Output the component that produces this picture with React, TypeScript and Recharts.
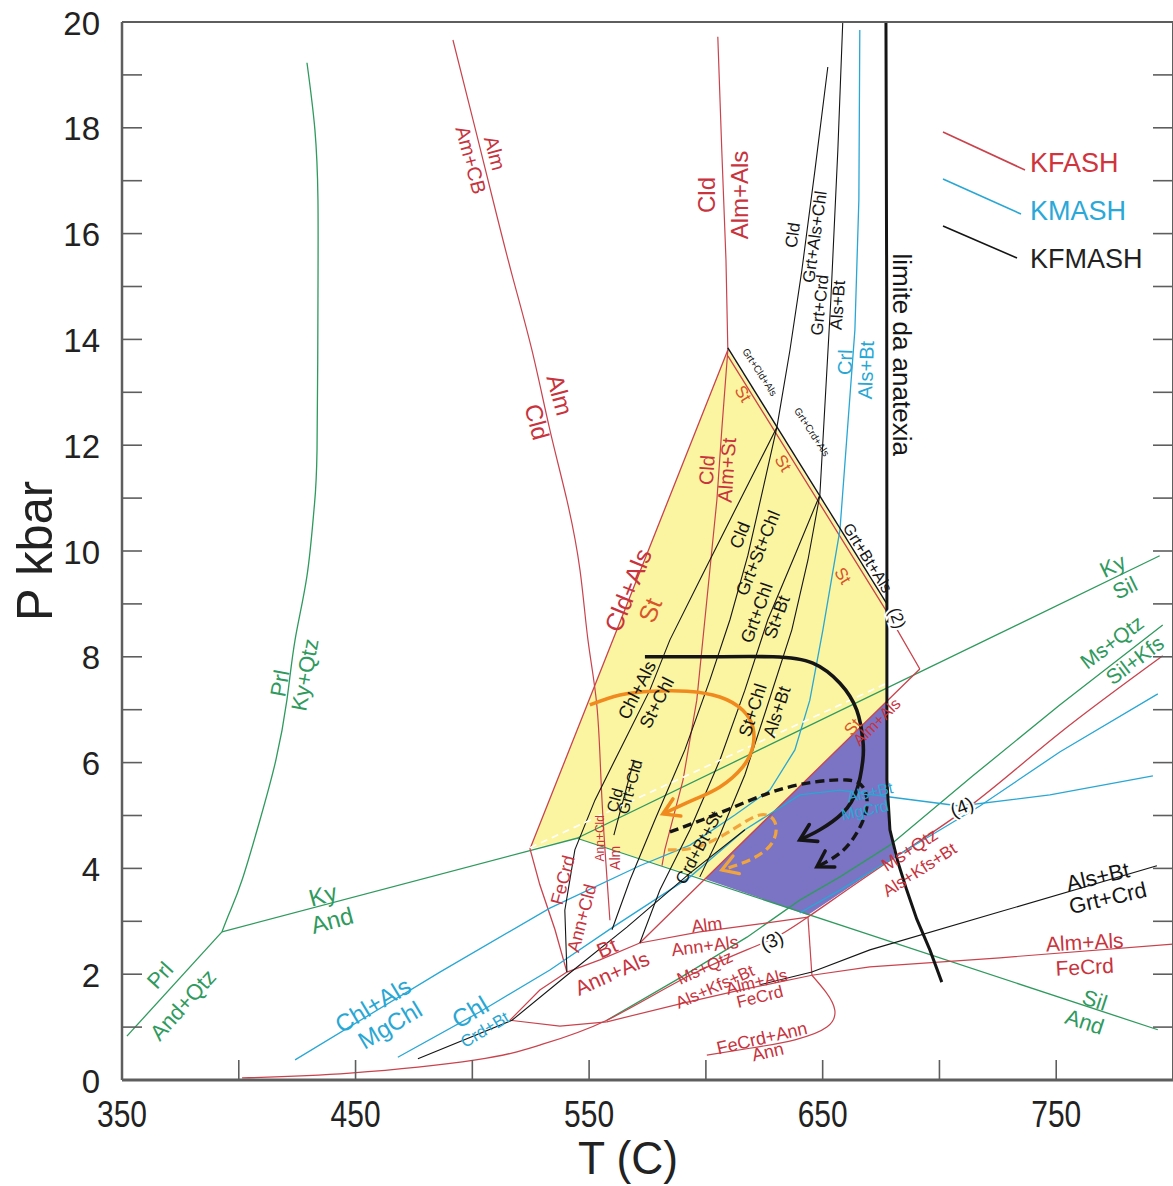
import React from 'react';
import { ComposedChart, Line, Scatter, XAxis, YAxis, Legend, Label } from 'recharts';

type Pt = [number, number];
type Lab = [number, number, string, number, number];

// ---- axes
const tTicks = [350, 400, 450, 500, 550, 600, 650, 700, 750, 800];
const pTicks = Array.from({ length: 21 }, (_, i) => i);

// ---- green: Prl / Al2SiO5 / Ms+Qtz
const prlKyQtz: Pt[] = [[429.2, 19.23], [432.6, 17.96], [433.9, 16.64], [433.9, 14.75], [433.5, 11.91], [432.2, 10.78], [429.2, 9.53], [424.1, 8.32], [420.6, 7.18], [415.9, 6.05], [409.1, 4.92], [401.4, 3.78], [396.2, 3.18], [392.8, 2.8]];
const prlAndQtz: Pt[] = [[392.8, 2.8], [352.1, 0.83]];
const kyAnd: Pt[] = [[392.8, 2.8], [544.8, 4.57]];
const kySil: Pt[] = [[544.8, 4.57], [794.3, 9.91]];
const andSil: Pt[] = [[544.8, 4.57], [793.5, 0.95]];
const msQtzSilKfs: Pt[] = [[795.6, 8.6], [751.5, 7.09], [714.3, 5.75], [678.8, 4.44], [657.4, 3.84], [640.2, 3.4], [617.6, 2.7], [588.9, 1.93], [557.6, 1.13]];
const kySilInner: Pt[] = [[524.7, 4.39], [677.5, 7.5]];

// ---- red: KFASH
const almCld: Pt[] = [[491.7, 19.66], [500.3, 18.15], [508.8, 16.64], [517.0, 15.22], [525.5, 13.8], [533.2, 12.29], [540.5, 10.96], [546.1, 9.64], [549.5, 8.32], [553.3, 7.09], [555.1, 5.67], [556.8, 4.35], [558.9, 3.02]];
const cldAlmAls: Pt[] = [[605.1, 19.72], [606.8, 17.58], [608.6, 15.5], [609.4, 13.8]];
const cldAlsSt: Pt[] = [[609.4, 13.8], [524.7, 4.37], [528.9, 3.69], [535.4, 2.84], [540.5, 2.04]];
const cldAlmSt: Pt[] = [[609.4, 13.8], [606.8, 12.29], [604.7, 10.96], [600.4, 9.07], [596.1, 7.18], [590.2, 5.67], [582.4, 4.35], [581.2, 4.05]];
const stEdge: Pt[] = [[609.4, 13.69], [677.5, 8.85], [691.6, 7.77]];
const stAlmAls: Pt[] = [[691.6, 7.77], [599.6, 3.8], [571.7, 2.59]];
const almAnnAls: Pt[] = [[571.7, 2.59], [597.4, 2.8], [623.1, 2.95], [643.7, 3.08]];
const btAnnAls: Pt[] = [[540.5, 2.04], [554.6, 2.27], [571.7, 2.59]];
const msQtzAlsKfsBt: Pt[] = [[795.6, 8.02], [751.5, 6.56], [714.3, 5.22], [677.9, 4.12], [643.7, 3.08], [624.4, 2.59], [593.2, 1.98], [557.6, 1.13], [528.9, 0.66], [501.5, 0.38], [447.6, 0.13], [401.4, 0.04]];
const almAlsFeCrd: Pt[] = [[799.9, 2.57], [725.9, 2.31], [670.2, 2.14], [645.4, 1.98], [614.6, 1.7], [588.9, 1.44], [557.6, 1.1]];
const stubLine: Pt[] = [[643.7, 3.08], [645.4, 1.98]];
const feCrdAnn: Pt[] = [[645.4, 1.98], [651.4, 1.66], [655.2, 1.32], [651.8, 1.0], [638.1, 0.76], [618.8, 0.6], [600.4, 0.47]];
const lowRedA: Pt[] = [[516.1, 1.13], [528.9, 1.7], [540.5, 2.04]];
const lowRedB: Pt[] = [[516.1, 1.13], [537.5, 1.02], [557.6, 1.1]];

// ---- cyan: KMASH
const crlAlsBt: Pt[] = [[665.9, 19.85], [665.5, 16.64], [663.8, 14.18], [657.4, 10.4], [650.1, 8.51], [644.5, 7.18], [638.1, 6.24], [627.4, 5.48], [612.4, 5.01], [593.2, 4.44], [571.7, 4.05], [533.2, 3.25], [486.1, 2.04], [424.1, 0.38]];
const chlCrdBt: Pt[] = [[468.1, 0.43], [503.3, 1.29], [533.2, 2.08], [560.2, 2.89], [593.2, 3.84], [616.7, 4.73], [640.2, 5.39], [657.4, 5.48], [678.8, 5.35], [708.7, 5.18], [747.3, 5.39], [791.4, 5.75]];
const alsKfsBtMg: Pt[] = [[793.5, 7.3], [751.5, 6.2], [717.3, 5.18], [678.8, 4.16], [657.4, 3.59], [640.2, 3.16]];

// ---- black: KFMASH
const grtEdge: Pt[] = [[609.4, 13.84], [677.5, 9.0]];
const cldGrtAlsChl: Pt[] = [[652.2, 19.15], [646.7, 17.2], [641.1, 15.31], [636.0, 13.8], [630.4, 12.34], [614.6, 10.96], [597.4, 9.45], [584.6, 8.32], [576.0, 7.37], [563.2, 6.24], [552.5, 5.29], [543.9, 4.35], [539.6, 3.21], [540.5, 2.04]];
const grtCrdAlsBt: Pt[] = [[658.6, 20.0], [656.5, 17.58], [653.5, 14.75], [648.8, 11.06]];
const cldGrtStChl: Pt[] = [[630.4, 12.34], [625.3, 11.34], [618.0, 9.92], [610.3, 8.7], [601.7, 7.56], [591.0, 6.24], [578.2, 4.92], [567.5, 3.78], [559.8, 2.84]];
const grtChlStBt: Pt[] = [[648.8, 11.06], [638.1, 9.92], [626.5, 8.7], [616.7, 7.37], [606.0, 6.05], [593.2, 4.73], [580.3, 3.59], [571.7, 2.59]];
const stChlAlsBt: Pt[] = [[648.8, 11.06], [643.7, 9.83], [636.8, 8.51], [625.7, 6.99], [616.7, 5.77], [606.0, 4.63], [597.4, 3.84]];
const grtCldCld: Pt[] = [[569.2, 6.05], [560.6, 4.63]];
const alsBtGrtCrd: Pt[] = [[793.1, 4.05], [725.9, 3.18], [670.2, 2.46], [645.4, 2.04], [623.1, 1.8]];
const crdBtLow: Pt[] = [[476.7, 0.4], [517.0, 1.13], [540.5, 1.98], [566.2, 2.89], [593.2, 3.91], [616.7, 4.73]];
const anatexis: Pt[] = [[677.1, 20.0], [677.4, 15.0], [677.5, 10.0], [677.5, 5.67], [678.8, 4.73], [682.2, 4.12], [686.0, 3.59], [690.3, 3.04], [695.9, 2.46], [701.0, 1.85]];

// ---- P-T paths
const pathSolid: Pt[] = [[573.9, 8.0], [601.0, 8.0], [628.7, 8.0], [645.8, 7.88], [657.4, 7.5], [664.6, 6.99], [667.2, 6.43], [667.2, 6.05], [664.6, 5.48], [658.6, 5.05], [648.8, 4.73], [640.2, 4.54]];
const pathDashed: Pt[] = [[584.6, 4.69], [606.0, 5.05], [627.4, 5.43], [645.8, 5.63], [660.4, 5.67], [667.2, 5.54], [668.9, 5.16], [664.6, 4.67], [657.4, 4.29], [647.5, 4.03]];
const orangeSolid: Pt[] = [[550.3, 7.09], [563.2, 7.28], [577.3, 7.35], [591.9, 7.35], [606.0, 7.24], [615.8, 6.99], [620.1, 6.67], [620.1, 6.3], [615.8, 5.92], [606.0, 5.54], [594.4, 5.29], [581.6, 5.03]];
const orangeDashed: Pt[] = [[583.7, 4.35], [597.4, 4.42], [612.4, 4.76], [623.1, 5.01], [629.5, 4.88], [628.3, 4.48], [618.8, 4.16], [606.8, 3.97]];

// ---- shaded fields
const yellowZone: Pt[] = [[524.7, 4.37], [609.4, 13.8], [677.5, 8.96], [677.5, 7.16], [599.6, 3.8], [544.8, 4.57]];
const purpleZone: Pt[] = [[677.5, 7.16], [599.6, 3.8], [643.7, 3.12], [680.9, 4.22], [678.8, 4.73], [677.5, 5.67]];

// ---- labels [T, P, text, rotation, size]
const greenLabels: Lab[] = [
  [417.6, 7.5, 'Prl', -80, 22], [428.3, 7.66, 'Ky+Qtz', -80, 22],
  [366.3, 1.98, 'Prl', -48, 22], [376.1, 1.42, 'And+Qtz', -48, 22],
  [436.0, 3.5, 'Ky', -15, 24], [439.9, 3.02, 'And', -15, 24],
  [774.2, 9.72, 'Ky', -26, 22], [779.4, 9.3, 'Sil', -26, 22],
  [773.8, 8.28, 'Ms+Qtz', -37, 21], [783.6, 7.94, 'Sil+Kfs', -37, 21],
  [766.5, 1.51, 'Sil', 18, 22], [762.2, 1.1, 'And', 18, 22],
];
const redLabels: Lab[] = [
  [509.7, 17.52, 'Alm', 75, 20], [499.4, 17.39, 'Am+CB', 75, 20],
  [537.5, 12.95, 'Alm', 75, 24], [527.7, 12.44, 'Cld', 75, 24],
  [600.4, 16.73, 'Cld', -90, 24], [614.6, 16.73, 'Alm+Als', -90, 24],
  [566.6, 9.26, 'Cld+Als', -68, 25],
  [600.4, 11.53, 'Cld', -86, 20], [609.0, 11.53, 'Alm+St', -86, 20],
  [673.2, 6.77, 'Alm+Als', -45, 16],
  [538.8, 3.78, 'FeCrd', -75, 18], [546.9, 3.06, 'Ann+Cld', -75, 18],
  [554.6, 4.57, 'Ann+Cld', -90, 12], [561.0, 4.2, 'Alm', -90, 14],
  [557.6, 2.5, 'Bt', -24, 21], [559.8, 2.02, 'Ann+Als', -24, 21],
  [600.4, 2.93, 'Alm', -7, 18], [599.6, 2.53, 'Ann+Als', -7, 18],
  [599.6, 2.12, 'Ms+Qtz', -24, 17], [603.9, 1.76, 'Als+Kfs+Bt', -24, 17],
  [621.8, 1.85, 'Alm+Als', -14, 17], [623.1, 1.57, 'FeCrd', -14, 17],
  [624.0, 0.79, 'FeCrd+Ann', -13, 18], [626.5, 0.53, 'Ann', -13, 18],
  [687.3, 4.35, 'Ms+Qtz', -33, 18], [691.6, 3.97, 'Als+Kfs+Bt', -33, 17],
  [762.2, 2.61, 'Alm+Als', -3, 21], [762.2, 2.14, 'FeCrd', -3, 21],
];
const stLabels: Lab[] = [
  [576.0, 8.88, 'St', -68, 25],
  [615.8, 12.97, 'St', 58, 17], [633.0, 11.66, 'St', 58, 17], [658.6, 9.53, 'St', 58, 17],
  [662.9, 6.67, 'St', -50, 17],
];
const cyanLabels: Lab[] = [
  [659.5, 13.57, 'Crl', -88, 20], [668.5, 13.42, 'Als+Bt', -88, 20],
  [670.2, 5.44, 'Als+Bt', -12, 16], [668.1, 5.1, 'MgCrd', -12, 16],
  [457.4, 1.42, 'Chl+Als', -31, 24], [464.7, 1.04, 'MgChl', -31, 24],
  [499.0, 1.29, 'Chl', -31, 25], [505.4, 0.95, 'Crd+Bt', -31, 17],
];
const blackLabels: Lab[] = [
  [683.9, 13.71, 'limite da anatexia', 90, 26],
  [637.2, 15.97, 'Cld', -82, 17], [646.7, 15.94, 'Grt+Als+Chl', -82, 17],
  [648.8, 14.65, 'Grt+Crd', -84, 17], [656.5, 14.65, 'Als+Bt', -86, 17],
  [623.1, 13.38, 'Grt+Cld+Als', 57, 10], [645.4, 12.25, 'Grt+Crd+Als', 57, 10], [669.3, 9.87, 'Grt+Bt+Als', 58, 16],
  [614.6, 10.3, 'Cld', -68, 18], [622.3, 9.96, 'Grt+St+Chl', -68, 18],
  [621.8, 8.83, 'Grt+Chl', -70, 18], [630.4, 8.75, 'St+Bt', -70, 18],
  [570.5, 7.37, 'Chl+Als', -63, 18], [579.0, 7.13, 'St+Chl', -63, 18],
  [620.1, 6.99, 'St+Chl', -72, 18], [630.4, 6.96, 'Als+Bt', -72, 18],
  [567.5, 5.54, 'Grt+Cld', -75, 16], [561.0, 5.29, 'Cld', -75, 16],
  [597.0, 4.39, 'Crd+Bt+St', -62, 17],
  [767.8, 3.84, 'Als+Bt', -13, 22], [772.1, 3.44, 'Grt+Crd', -13, 22],
  [681.8, 8.73, '(2)', 70, 17], [628.3, 2.63, '(3)', -22, 19], [709.6, 5.16, '(4)', -22, 19],
];

const RED = '#c9434d';
const RED_TXT = '#c8333d';
const GREEN = '#2f9a5e';
const CYAN = '#29a7d4';
const BLACK = '#151515';
const ORANGE = '#f08a1e';
const ORANGE_DASH = '#f2a43c';
const ST_ORANGE = '#d8552a';
const YELLOW = '#fbf5a2';
const PURPLE = '#7b73c4';
const AXIS = '#5e5e5e';
const FONT = "'Liberation Sans', Arial, sans-serif";

const rows = (pts: Pt[]) => pts.map(([t, p]) => ({ t, p }));
const labelRows = (labs: Lab[]) => labs.map(([t, p, text, rot, size]) => ({ t, p, text, rot, size }));

const arrowDot = (color: string, n: number, width: number) => {
  const prev = { x: 0, y: 0 };
  return (props: any) => {
    const { index, cx, cy } = props;
    if (index === n - 2) {
      prev.x = cx;
      prev.y = cy;
    }
    if (index !== n - 1) return <g key={`a-${index}`} />;
    const ang = Math.atan2(cy - prev.y, cx - prev.x);
    const len = 18;
    const s = 0.55;
    const x1 = cx - len * Math.cos(ang - s);
    const y1 = cy - len * Math.sin(ang - s);
    const x2 = cx - len * Math.cos(ang + s);
    const y2 = cy - len * Math.sin(ang + s);
    return (
      <path key={`a-${index}`} d={`M${x1},${y1} L${cx},${cy} L${x2},${y2}`} fill="none" stroke={color} strokeWidth={width} strokeLinecap="round" />
    );
  };
};

type LineDef = { id: string; pts: Pt[]; c: string; w: number; dash?: string; curve?: 'linear' | 'natural'; arrow?: boolean };

const lineDefs: LineDef[] = [
  { id: 'prlKyQtz', pts: prlKyQtz, c: GREEN, w: 1.3, curve: 'natural' },
  { id: 'prlAndQtz', pts: prlAndQtz, c: GREEN, w: 1.3 },
  { id: 'kyAnd', pts: kyAnd, c: GREEN, w: 1.3 },
  { id: 'kySil', pts: kySil, c: GREEN, w: 1.3 },
  { id: 'andSil', pts: andSil, c: GREEN, w: 1.3 },
  { id: 'msQtzSilKfs', pts: msQtzSilKfs, c: GREEN, w: 1.3 },
  { id: 'almCld', pts: almCld, c: RED, w: 1.2, curve: 'natural' },
  { id: 'cldAlmAls', pts: cldAlmAls, c: RED, w: 1.2 },
  { id: 'cldAlsSt', pts: cldAlsSt, c: RED, w: 1.3 },
  { id: 'cldAlmSt', pts: cldAlmSt, c: RED, w: 1.2 },
  { id: 'stEdge', pts: stEdge, c: RED, w: 1.3 },
  { id: 'stAlmAls', pts: stAlmAls, c: RED, w: 1.3 },
  { id: 'almAnnAls', pts: almAnnAls, c: RED, w: 1.2 },
  { id: 'btAnnAls', pts: btAnnAls, c: RED, w: 1.2 },
  { id: 'msQtzAlsKfsBt', pts: msQtzAlsKfsBt, c: RED, w: 1.3, curve: 'natural' },
  { id: 'almAlsFeCrd', pts: almAlsFeCrd, c: RED, w: 1.2 },
  { id: 'stubLine', pts: stubLine, c: RED, w: 1.2 },
  { id: 'feCrdAnn', pts: feCrdAnn, c: RED, w: 1.2, curve: 'natural' },
  { id: 'lowRedA', pts: lowRedA, c: RED, w: 1.2 },
  { id: 'lowRedB', pts: lowRedB, c: RED, w: 1.2 },
  { id: 'crlAlsBt', pts: crlAlsBt, c: CYAN, w: 1.3 },
  { id: 'chlCrdBt', pts: chlCrdBt, c: CYAN, w: 1.3 },
  { id: 'alsKfsBtMg', pts: alsKfsBtMg, c: CYAN, w: 1.3 },
  { id: 'grtEdge', pts: grtEdge, c: BLACK, w: 1.4 },
  { id: 'cldGrtAlsChl', pts: cldGrtAlsChl, c: BLACK, w: 1.1 },
  { id: 'grtCrdAlsBt', pts: grtCrdAlsBt, c: BLACK, w: 1.1 },
  { id: 'cldGrtStChl', pts: cldGrtStChl, c: BLACK, w: 1.1 },
  { id: 'grtChlStBt', pts: grtChlStBt, c: BLACK, w: 1.1 },
  { id: 'stChlAlsBt', pts: stChlAlsBt, c: BLACK, w: 1.1 },
  { id: 'grtCldCld', pts: grtCldCld, c: BLACK, w: 1.1 },
  { id: 'alsBtGrtCrd', pts: alsBtGrtCrd, c: BLACK, w: 1.1 },
  { id: 'crdBtLow', pts: crdBtLow, c: BLACK, w: 1.1 },
  { id: 'kySilInner', pts: kySilInner, c: '#ffffff', w: 1.6, dash: '7 5' },
  { id: 'anatexis', pts: anatexis, c: BLACK, w: 3 },
  { id: 'orangeSolid', pts: orangeSolid, c: ORANGE, w: 3.6, curve: 'natural', arrow: true },
  { id: 'orangeDashed', pts: orangeDashed, c: ORANGE_DASH, w: 3.2, dash: '9 5', curve: 'natural', arrow: true },
  { id: 'pathSolid', pts: pathSolid, c: BLACK, w: 3.6, curve: 'natural', arrow: true },
  { id: 'pathDashed', pts: pathDashed, c: BLACK, w: 3.4, dash: '9 5', curve: 'natural', arrow: true },
];

const labelGroups = [
  { id: 'lg', color: GREEN, labs: greenLabels },
  { id: 'lr', color: RED_TXT, labs: redLabels },
  { id: 'ls', color: ST_ORANGE, labs: stLabels },
  { id: 'lc', color: CYAN, labs: cyanLabels },
  { id: 'lk', color: BLACK, labs: blackLabels },
];

const fillPoly = (color: string) => (props: any) => {
  const pts = props.points || [];
  if (!pts.length) return <g />;
  return <polygon points={pts.map((q: any) => `${q.x},${q.y}`).join(' ')} fill={color} stroke="none" />;
};

const textShape = (color: string) => (props: any) => {
  const { cx, cy } = props;
  const d = props.payload ?? props;
  if (cx == null || cy == null || !d || !d.text) return <g />;
  const badge = String(d.text).startsWith('(');
  return (
    <text
      x={cx}
      y={cy}
      transform={`rotate(${d.rot} ${cx} ${cy})`}
      textAnchor="middle"
      dominantBaseline="central"
      fontSize={d.size}
      fontFamily={FONT}
      fill={color}
      stroke={badge ? '#ffffff' : 'none'}
      strokeWidth={badge ? 4 : 0}
      paintOrder="stroke"
    >
      {d.text}
    </text>
  );
};

const BottomTick = (props: any) => {
  const { x, y, payload } = props;
  const v = payload.value;
  return (
    <g>
      <line x1={x} y1={y} x2={x} y2={y - 20} stroke={AXIS} strokeWidth={1.6} />
      {v % 100 === 50 && (
        <text
          x={x}
          y={y + 34}
          textAnchor="middle"
          dominantBaseline="central"
          fontSize={37}
          fontFamily={FONT}
          textLength={50}
          lengthAdjust="spacingAndGlyphs"
          fill="#222"
        >
          {v}
        </text>
      )}
    </g>
  );
};

const TopTick = (props: any) => {
  const { x, y } = props;
  return <line x1={x} y1={y} x2={x} y2={y + 20} stroke={AXIS} strokeWidth={1.6} />;
};

const LeftTick = (props: any) => {
  const { x, y, payload } = props;
  const v = payload.value;
  return (
    <g>
      <line x1={x} y1={y} x2={x + 20} y2={y} stroke={AXIS} strokeWidth={1.6} />
      {v % 2 === 0 && (
        <text x={x - 22} y={y + 1} textAnchor="end" dominantBaseline="central" fontSize={33} fontFamily={FONT} fill="#222">
          {v}
        </text>
      )}
    </g>
  );
};

const RightTick = (props: any) => {
  const { x, y } = props;
  return <line x1={x} y1={y} x2={x - 20} y2={y} stroke={AXIS} strokeWidth={1.6} />;
};

const TitleT = (props: any) => {
  const vb = props.viewBox;
  if (!vb) return null;
  return (
    <text
      x={vb.x + 506}
      y={vb.y + 78}
      textAnchor="middle"
      dominantBaseline="central"
      fontSize={46}
      fontFamily={FONT}
      textLength={100}
      lengthAdjust="spacingAndGlyphs"
      fill="#222"
    >
      T (C)
    </text>
  );
};

const TitleP = (props: any) => {
  const vb = props.viewBox;
  if (!vb) return null;
  const x = vb.x - 86;
  const y = vb.y + vb.height / 2;
  return (
    <text
      x={x}
      y={y}
      transform={`rotate(-90 ${x} ${y})`}
      textAnchor="middle"
      dominantBaseline="central"
      fontSize={50}
      fontFamily={FONT}
      textLength={140}
      lengthAdjust="spacingAndGlyphs"
      fill="#222"
    >
      P kbar
    </text>
  );
};

const legendRows = [
  { name: 'KFASH', color: RED, text: '#d0343c' },
  { name: 'KMASH', color: CYAN, text: '#2aa8d8' },
  { name: 'KFMASH', color: BLACK, text: '#222' },
];

const LegendBox = () => (
  <svg width={235} height={175}>
    {legendRows.map((r, i) => {
      const y0 = 12 + i * 47;
      return (
        <g key={r.name}>
          <line x1={8} y1={y0} x2={90 - i * 4} y2={y0 + 38 - i * 3} stroke={r.color} strokeWidth={1.6} />
          <text x={95} y={y0 + 31 + i} dominantBaseline="central" fontSize={27} fontFamily={FONT} fill={r.text}>
            {r.name}
          </text>
        </g>
      );
    })}
  </svg>
);

export default function App() {
  return (
    <div style={{ position: 'absolute', left: 0, top: 0, width: 1173, height: 1186, background: '#fff', overflow: 'hidden' }}>
      <ComposedChart width={1174} height={1186} margin={{ top: 21, right: 0, bottom: 105, left: 121 }}>
        <XAxis
          xAxisId={0}
          dataKey="t"
          type="number"
          domain={[350, 800]}
          ticks={tTicks}
          interval={0}
          height={1}
          tickSize={0}
          tickMargin={0}
          tickLine={false}
          tick={BottomTick}
          axisLine={{ stroke: AXIS, strokeWidth: 3 }}
          allowDataOverflow
        >
          <Label content={TitleT} />
        </XAxis>
        <XAxis
          xAxisId="top"
          orientation="top"
          type="number"
          domain={[350, 800]}
          ticks={tTicks}
          interval={0}
          height={1}
          tickSize={0}
          tickMargin={0}
          tickLine={false}
          tick={TopTick}
          axisLine={{ stroke: AXIS, strokeWidth: 2 }}
          allowDataOverflow
        />
        <YAxis
          yAxisId={0}
          dataKey="p"
          type="number"
          domain={[0, 20]}
          ticks={pTicks}
          interval={0}
          width={1}
          tickSize={0}
          tickMargin={0}
          tickLine={false}
          tick={LeftTick}
          axisLine={{ stroke: AXIS, strokeWidth: 2.5 }}
          allowDataOverflow
        >
          <Label content={TitleP} />
        </YAxis>
        <YAxis
          yAxisId="right"
          orientation="right"
          type="number"
          domain={[0, 20]}
          ticks={pTicks}
          interval={0}
          width={1}
          tickSize={0}
          tickMargin={0}
          tickLine={false}
          tick={RightTick}
          axisLine={{ stroke: AXIS, strokeWidth: 2 }}
          allowDataOverflow
        />

        <Scatter
          data={rows(yellowZone)}
          dataKey="p"
          line={fillPoly(YELLOW)}
          lineType="joint"
          shape={() => <g />}
          isAnimationActive={false}
          legendType="none"
          zIndex={50}
        />
        <Scatter
          data={rows(purpleZone)}
          dataKey="p"
          line={fillPoly(PURPLE)}
          lineType="joint"
          shape={() => <g />}
          isAnimationActive={false}
          legendType="none"
          zIndex={51}
        />

        {lineDefs.map((l) => (
          <Line
            key={l.id}
            data={rows(l.pts)}
            dataKey="p"
            type={l.curve ?? 'linear'}
            stroke={l.c}
            strokeWidth={l.w}
            strokeDasharray={l.dash}
            dot={l.arrow ? arrowDot(l.c, l.pts.length, Math.max(3, l.w)) : false}
            activeDot={false}
            isAnimationActive={false}
            legendType="none"
          />
        ))}

        {labelGroups.map((g) => (
          <Scatter
            key={g.id}
            data={labelRows(g.labs)}
            dataKey="p"
            shape={textShape(g.color)}
            isAnimationActive={false}
            legendType="none"
          />
        ))}

        <Legend
          content={LegendBox}
          layout="horizontal"
          verticalAlign="middle"
          align="center"
          wrapperStyle={{ left: 935, top: 120, width: 235, height: 175 }}
        />
      </ComposedChart>
    </div>
  );
}
